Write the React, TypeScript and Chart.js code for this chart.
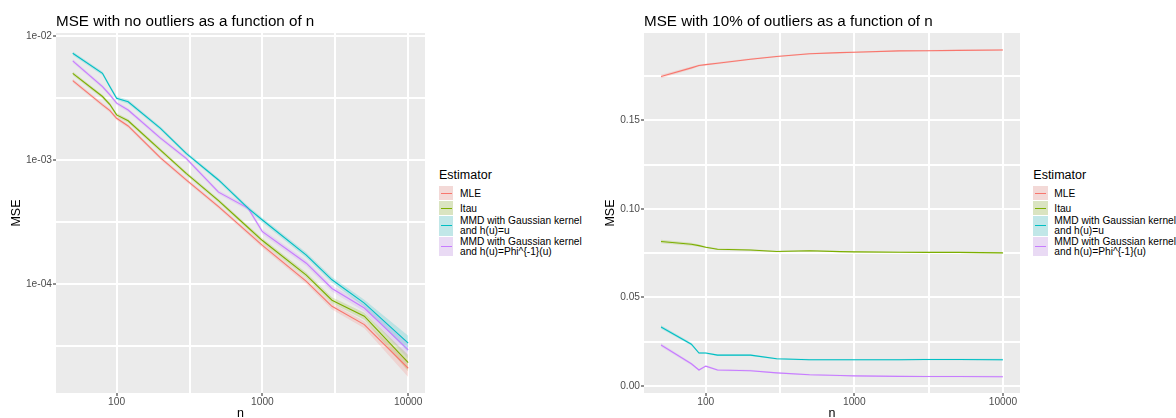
import React, { useEffect, useRef } from 'react';
import { Chart, registerables } from 'chart.js';

Chart.register(...registerables);

const FONT = '"Liberation Sans", Arial, Helvetica, sans-serif';

// ---------- data ----------
const nValues = [50, 80, 90, 100, 120, 200, 300, 500, 800, 1000, 2000, 3000, 5000, 10000];

const estimatorLabels = [
  'MLE',
  'Itau',
  'MMD with Gaussian kernel\nand h(u)=u',
  'MMD with Gaussian kernel\nand h(u)=Phi^{-1}(u)',
];
const estimatorColors = ['#F8766D', '#7CAE00', '#00BFC4', '#C77CFF'];

// Panel 1: no outliers (log scale)
const cleanMLE = [4.36e-3, 2.78e-3, 2.5e-3, 2.17e-3, 1.88e-3, 1.04e-3, 6.9e-4, 4.2e-4, 2.58e-4, 2.05e-4, 1.05e-4, 6.6e-5, 4.7e-5, 2.09e-5];
const cleanItau = [5.0e-3, 3.25e-3, 2.8e-3, 2.31e-3, 2.07e-3, 1.2e-3, 7.8e-4, 4.7e-4, 2.84e-4, 2.24e-4, 1.18e-4, 7.4e-5, 5.5e-5, 2.32e-5];
const cleanMMDu = [7.25e-3, 5.0e-3, 3.9e-3, 3.15e-3, 2.95e-3, 1.8e-3, 1.13e-3, 6.9e-4, 4.07e-4, 3.28e-4, 1.71e-4, 1.08e-4, 7.0e-5, 3.33e-5];
const cleanMMDphi = [6.3e-3, 3.9e-3, 3.35e-3, 2.87e-3, 2.53e-3, 1.5e-3, 1.03e-3, 5.5e-4, 4.07e-4, 2.64e-4, 1.47e-4, 9.2e-5, 6.4e-5, 2.94e-5];
const cleanRelHalfWidth = [0.035, 0.035, 0.035, 0.035, 0.035, 0.035, 0.035, 0.035, 0.04, 0.045, 0.05, 0.055, 0.065, 0.15];

// Panel 2: 10% outliers (linear scale)
const outMLE = [0.1748, 0.1797, 0.181, 0.1815, 0.1823, 0.1846, 0.1861, 0.1877, 0.1883, 0.1885, 0.1893, 0.1894, 0.1896, 0.1898];
const outItau = [0.0815, 0.08, 0.0792, 0.0783, 0.0772, 0.0767, 0.0759, 0.0763, 0.0758, 0.0757, 0.0755, 0.0754, 0.0754, 0.0751];
const outMMDu = [0.0332, 0.0235, 0.0185, 0.0185, 0.0173, 0.0173, 0.0153, 0.0147, 0.0147, 0.0147, 0.0147, 0.0148, 0.0148, 0.0147];
const outMMDphi = [0.023, 0.0124, 0.0089, 0.0111, 0.0089, 0.0085, 0.0073, 0.0062, 0.0058, 0.0056, 0.0053, 0.0052, 0.0052, 0.0051];
const outHalfWidth = [0.001, 0.0008, 0.0006, 0.0005, 0.0005, 0.0005, 0.0004, 0.0004, 0.0004, 0.0004, 0.0004, 0.0004, 0.0004, 0.0005];

// Axis ticks
const xTickValues = [100, 316.228, 1000, 3162.28, 10000];
const xTickLabels = ['100', '', '1000', '', '10000'];
const cleanYTickValues = [3.16228e-5, 1e-4, 3.16228e-4, 1e-3, 3.16228e-3, 1e-2];
const cleanYTickLabels = ['', '1e-04', '', '1e-03', '', '1e-02'];
const outYTickValues = [0, 0.025, 0.05, 0.075, 0.1, 0.125, 0.15, 0.175];
const outYTickLabels = ['0.00', '', '0.05', '', '0.10', '', '0.15', ''];

const cleanTitle = 'MSE with no outliers as a function of n';
const outTitle = 'MSE with 10% of outliers as a function of n';

// ---------- helpers ----------
function hexToRgba(hex: string, a: number) {
  const r = parseInt(hex.slice(1, 3), 16);
  const g = parseInt(hex.slice(3, 5), 16);
  const b = parseInt(hex.slice(5, 7), 16);
  return `rgba(${r},${g},${b},${a})`;
}

function buildDatasets(series: number[][], lower: number[][], upper: number[][]) {
  const ds: any[] = [];
  series.forEach((_, i) => {
    ds.push({
      data: nValues.map((n, j) => ({ x: n, y: lower[i][j] })),
      borderWidth: 0,
      borderColor: 'rgba(0,0,0,0)',
      backgroundColor: 'rgba(0,0,0,0)',
      pointRadius: 0,
      fill: false,
    });
    ds.push({
      data: nValues.map((n, j) => ({ x: n, y: upper[i][j] })),
      borderWidth: 0,
      borderColor: 'rgba(0,0,0,0)',
      backgroundColor: hexToRgba(estimatorColors[i], 0.2),
      pointRadius: 0,
      fill: '-1',
    });
  });
  series.forEach((vals, i) => {
    ds.push({
      data: nValues.map((n, j) => ({ x: n, y: vals[j] })),
      borderColor: estimatorColors[i],
      backgroundColor: estimatorColors[i],
      borderWidth: 1.1,
      pointRadius: 0,
      fill: false,
      tension: 0,
    });
  });
  return ds;
}

function makeScale(opts: {
  type: string;
  min: number;
  max: number;
  values: number[];
  labels: string[];
  isX: boolean;
  size: number;
  title: string;
  titlePadding: any;
  tickPadding: number;
}) {
  const { type, min, max, values, labels, isX, size, title, titlePadding, tickPadding } = opts;
  const isMajor = (i: number) => labels[i] !== '';
  return {
    type,
    position: isX ? 'bottom' : 'left',
    min,
    max,
    afterBuildTicks: (scale: any) => {
      scale.ticks = values.map((v, i) => ({ value: v, major: false, label: labels[i] }));
    },
    afterFit: (scale: any) => {
      if (isX) scale.height = size;
      else scale.width = size;
    },
    ticks: {
      autoSkip: false,
      maxRotation: 0,
      minRotation: 0,
      padding: tickPadding,
      color: '#4D4D4D',
      font: { family: FONT, size: 10.2 },
      callback: (_v: any, i: number) => labels[i],
    },
    grid: {
      color: '#FFFFFF',
      lineWidth: 2,
      drawTicks: true,
      tickLength: 3,
      tickWidth: 1.1,
      tickColor: (ctx: any) => (isMajor(ctx.index) ? '#333333' : 'rgba(0,0,0,0)'),
    },
    border: { display: false },
    title: {
      display: true,
      text: title,
      color: '#000000',
      font: { family: FONT, size: 12.5 },
      padding: titlePadding,
    },
  };
}

const panelBgPlugin = {
  id: 'panelBg',
  beforeDraw(chart: any) {
    const { ctx, chartArea } = chart;
    ctx.save();
    ctx.fillStyle = '#EBEBEB';
    ctx.fillRect(chartArea.left, chartArea.top, chartArea.right - chartArea.left, chartArea.bottom - chartArea.top);
    ctx.restore();
  },
};

const panelTitlePlugin = {
  id: 'panelTitle',
  afterDraw(chart: any, _args: any, opts: any) {
    const { ctx, chartArea } = chart;
    ctx.save();
    ctx.font = `15.2px ${FONT}`;
    ctx.fillStyle = '#000000';
    ctx.textBaseline = 'alphabetic';
    ctx.textAlign = 'left';
    ctx.fillText(opts.text, chartArea.left, 26);
    ctx.restore();
  },
};

function makeConfig(p: {
  series: number[][];
  lower: number[][];
  upper: number[][];
  yType: string;
  yMin: number;
  yMax: number;
  yValues: number[];
  yLabels: string[];
  yWidth: number;
  padLeft: number;
  padRight: number;
  title: string;
}): any {
  return {
    type: 'line',
    data: { datasets: buildDatasets(p.series, p.lower, p.upper) },
    plugins: [panelBgPlugin, panelTitlePlugin],
    options: {
      responsive: false,
      animation: false,
      devicePixelRatio: 1,
      layout: { padding: { left: p.padLeft, right: p.padRight, top: 33, bottom: 0 } },
      plugins: {
        legend: { display: false },
        tooltip: { enabled: false },
        title: { display: false },
        filler: { drawTime: 'beforeDatasetsDraw' },
        panelTitle: { text: p.title },
      },
      scales: {
        x: makeScale({
          type: 'logarithmic',
          min: 38.4,
          max: 13036,
          values: xTickValues,
          labels: xTickLabels,
          isX: true,
          size: 25,
          title: 'n',
          titlePadding: { top: 0, bottom: -3.5 },
          tickPadding: 0,
        }),
        y: makeScale({
          type: p.yType,
          min: p.yMin,
          max: p.yMax,
          values: p.yValues,
          labels: p.yLabels,
          isX: false,
          size: p.yWidth,
          title: 'MSE',
          titlePadding: { top: 0, bottom: 0 },
          tickPadding: 1,
        }),
      },
    },
  };
}

function Legend({ left }: { left: number }) {
  const tops = [186, 201, 216, 236.5];
  const heights = [15, 15, 20.5, 20.5];
  return (
    <>
      <div
        style={{
          position: 'absolute',
          left,
          top: 167.5,
          height: 15,
          lineHeight: '15px',
          fontSize: 12.5,
          color: '#000',
          whiteSpace: 'nowrap',
        }}
      >
        Estimator
      </div>
      {estimatorLabels.map((lab, i) => (
        <React.Fragment key={i}>
          <div
            style={{
              position: 'absolute',
              left,
              top: tops[i],
              width: 14.3,
              height: heights[i] - 0.6,
              background: '#F2F2F2',
            }}
          >
            <div style={{ position: 'absolute', inset: 0, background: hexToRgba(estimatorColors[i], 0.2) }} />
            <div
              style={{
                position: 'absolute',
                left: 1.6,
                width: 11.1,
                top: (heights[i] - 0.6) / 2 - 0.55,
                height: 1.1,
                background: estimatorColors[i],
              }}
            />
          </div>
          <div
            style={{
              position: 'absolute',
              left: left + 21,
              top: tops[i],
              height: heights[i],
              display: 'flex',
              alignItems: 'center',
              fontSize: 10.2,
              lineHeight: '9.8px',
              color: '#000',
              whiteSpace: 'pre',
            }}
          >
            {lab}
          </div>
        </React.Fragment>
      ))}
    </>
  );
}

export default function App() {
  const leftRef = useRef<HTMLCanvasElement>(null);
  const rightRef = useRef<HTMLCanvasElement>(null);

  useEffect(() => {
    const cleanSeries = [cleanMLE, cleanItau, cleanMMDu, cleanMMDphi];
    const outSeries = [outMLE, outItau, outMMDu, outMMDphi];
    const chartL = new Chart(
      leftRef.current as HTMLCanvasElement,
      makeConfig({
        series: cleanSeries,
        lower: cleanSeries.map((s) => s.map((v, j) => v * (1 - cleanRelHalfWidth[j]))),
        upper: cleanSeries.map((s) => s.map((v, j) => v * (1 + cleanRelHalfWidth[j]))),
        yType: 'logarithmic',
        yMin: 1.32e-5,
        yMax: 1.057e-2,
        yValues: cleanYTickValues,
        yLabels: cleanYTickLabels,
        yWidth: 46.8,
        padLeft: 9.2,
        padRight: 7,
        title: cleanTitle,
      })
    );
    const chartR = new Chart(
      rightRef.current as HTMLCanvasElement,
      makeConfig({
        series: outSeries,
        lower: outSeries.map((s) => s.map((v, j) => v - outHalfWidth[j])),
        upper: outSeries.map((s) => s.map((v, j) => v + outHalfWidth[j])),
        yType: 'linear',
        yMin: -0.0041,
        yMax: 0.1994,
        yValues: outYTickValues,
        yLabels: outYTickLabels,
        yWidth: 40.8,
        padLeft: 13.2,
        padRight: 5,
        title: outTitle,
      })
    );
    return () => {
      chartL.destroy();
      chartR.destroy();
    };
  }, []);

  return (
    <div
      style={{
        position: 'fixed',
        left: 0,
        top: 0,
        width: 1176,
        height: 418,
        overflow: 'hidden',
        background: '#FFFFFF',
        fontFamily: FONT,
      }}
    >
      <canvas ref={leftRef} width={432} height={418} style={{ position: 'absolute', left: 0, top: 0, display: 'block' }} />
      <canvas ref={rightRef} width={435} height={418} style={{ position: 'absolute', left: 590, top: 0, display: 'block' }} />
      <Legend left={439} />
      <Legend left={1033.3} />
    </div>
  );
}
